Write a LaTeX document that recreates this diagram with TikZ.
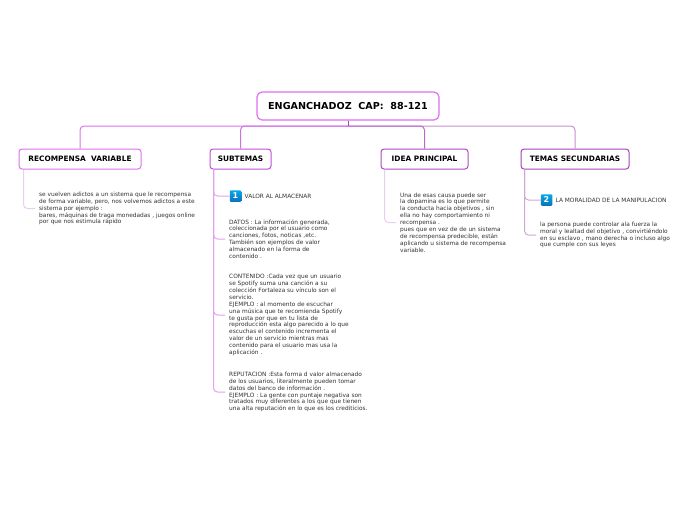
\documentclass[tikz,border=0pt]{standalone}
\usepackage{fontspec}
\setmainfont{DejaVu Sans}
\usetikzlibrary{positioning}
\definecolor{rootpink}{HTML}{E070F0}
\definecolor{pinkline}{HTML}{DD88EE}
\definecolor{paleline}{HTML}{EBCDF2}
\definecolor{midpurple}{HTML}{C050D8}
\definecolor{darkpurple}{HTML}{A545B8}
\definecolor{softpurple}{HTML}{C78FD0}
\definecolor{iconblue}{HTML}{0A84DC}
\tikzset{
    topic/.style={
        rectangle,
        rounded corners=3pt,
        draw=rootpink,
        fill=white,
        line width=1pt,
        minimum height=20pt,
        inner xsep=0pt,
        text depth=1pt,
        font=\fontsize{7.4}{8}\selectfont\bfseries
    },
    note/.style={
        align=left,
        inner xsep=4pt,
        inner ysep=0pt,
        text=black!80,
        font=\fontsize{5.85}{6.9}\selectfont
    },
    trunk/.style={rounded corners=4pt, line width=1pt},
    branch/.style={rounded corners=4pt, line width=1pt},
    iconbox/.style={
        rectangle,
        rounded corners=1pt,
        minimum size=11.5pt,
        inner sep=0pt,
        top color=iconblue!70!cyan,
        bottom color=iconblue!85!black,
        text=white,
        font=\fontsize{8}{8}\selectfont\bfseries
    }
}
\begin{document}
\begin{tikzpicture}[x=1pt,y=-1pt]
    \useasboundingbox (0,0) rectangle (696,520);

    % Root
    \node[topic, minimum width=182pt, minimum height=28pt, rounded corners=5pt, line width=1.2pt,
        font=\fontsize{9.6}{10}\selectfont\bfseries] (root) at (348,106) {ENGANCHADOZ\ \ CAP:\ \ 88-121};
    \coordinate (hub) at (348,126);

    % Topics
    \node[topic, minimum width=122pt] (recompensa) at (80,159) {RECOMPENSA\ \ VARIABLE};
    \node[topic, minimum width=61pt, draw=midpurple] (subtemas) at (240.5,159) {SUBTEMAS};
    \node[topic, minimum width=87pt, draw=darkpurple!85!rootpink] (idea) at (424.5,159) {IDEA PRINCIPAL};
    \node[topic, minimum width=108pt, draw=darkpurple] (temas) at (575,159) {TEMAS SECUNDARIAS};

    % Arrows
    \draw[trunk, draw=softpurple] (hub) -| (temas.north);
    \draw[trunk, draw=rootpink] (hub) -| (recompensa.north);
    \draw[trunk, draw=midpurple!80!white] (hub) -| (subtemas.north);
    \draw[trunk, draw=darkpurple!80!white] (hub) -| (idea.north);
    \draw[line width=1pt, draw=darkpurple] (root.south) -- (hub);

    % Recompensa
    \node[note, anchor=west] (recompensaText) at (35,208.5) {se vuelven adictos a un sistema que le recompensa\\de forma variable, pero, nos volvemos adictos a este\\sistema por ejemplo :\\bares, máquinas de traga monedadas , juegos online\\por que nos estimula rápido};
    \draw[branch, draw=paleline] ([xshift=5pt]recompensa.south west) |- (recompensaText.west);

    % Subtemas
    \node[iconbox] (iconOne) at (235.5,196) {1};
    \node[note, right=0pt of iconOne, inner xsep=3pt] (valor) {VALOR AL ALMACENAR};
    \node[note, anchor=west] (datos) at (225,239) {DATOS : La información generada,\\coleccionada por el usuario como\\canciones, fotos, noticas ,etc.\\También son ejemplos de valor\\almacenado en la forma de\\contenido .};
    \node[note, anchor=west] (contenido) at (225,315) {CONTENIDO :Cada vez que un usuario\\se Spotify suma una canción a su\\colección Fortaleza su vínculo son el\\servicio.\\EJEMPLO : al momento de escuchar\\una música que te recomienda Spotify\\te gusta por que en tu lista de\\reproducción esta algo parecido a lo que\\escuchas el contenido incrementa el\\valor de un servicio mientras  mas\\contenido para el usuario mas usa la\\aplicación .};
    \node[note, anchor=west] (reputacion) at (225,392) {REPUTACION :Esta forma d valor almacenado\\de los usuarios, literalmente pueden tomar\\datos del banco de información .\\EJEMPLO : La gente con puntaje negativa son\\tratados muy diferentes a los que que tienen\\una alta reputación en lo que es los crediticios.};
    \draw[branch, draw=pinkline!80!white] ([xshift=4pt]subtemas.south west) |- (iconOne.west);
    \draw[branch, draw=pinkline!80!white] ([xshift=4pt]subtemas.south west) |- (datos.west);
    \draw[branch, draw=pinkline!80!white] ([xshift=4pt]subtemas.south west) |- (contenido.west);
    \draw[branch, draw=pinkline!80!white] ([xshift=4pt]subtemas.south west) |- (reputacion.west);

    % Idea principal
    \node[note, anchor=west] (ideaText) at (396,222.5) {Una de esas causa puede ser\\la dopamina es lo que permite\\la conducta hacia objetivos , sin\\ella no hay comportamiento ni\\recompensa .\\pues que en vez de de un sistema\\de recompensa predecible, están\\aplicando u sistema de recompensa\\variable.};
    \draw[branch, draw=paleline] ([xshift=4pt]idea.south west) |- (ideaText.west);

    % Temas secundarias
    \node[iconbox] (iconTwo) at (546.5,200) {2};
    \node[note, right=0pt of iconTwo, inner xsep=3pt] (moralidad) {LA MORALIDAD DE LA MANIPULACION};
    \node[note, anchor=west] (temasText) at (536,235) {la persona puede controlar ala fuerza la\\moral y lealtad del objetivo , convirtiéndolo\\en su esclavo , mano derecha o incluso algo\\que cumple con sus leyes};
    \draw[branch, draw=softpurple!80!white] ([xshift=4pt]temas.south west) |- (iconTwo.west);
    \draw[branch, draw=softpurple!80!white] ([xshift=4pt]temas.south west) |- (temasText.west);
\end{tikzpicture}
\end{document}
